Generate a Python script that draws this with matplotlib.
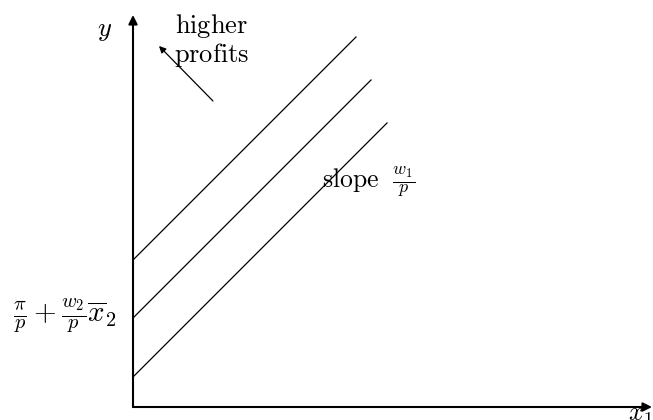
import numpy as np
import matplotlib
matplotlib.use("Agg")
import matplotlib.pyplot as plt

plt.rcParams['mathtext.fontset'] = 'cm'

# isoprofit lines: intercept on the y axis and how far right each one runs
intercepts = [147, 89, 30]
x_ends = [223, 238, 254]
slope = 1.0

fig = plt.figure(figsize=(6.53, 4.2), dpi=100)
ax = fig.add_axes([0, 0, 1, 1])
ax.set_xlim(-133, 520)
ax.set_ylim(-13, 407)
ax.axis('off')

# axes with arrow heads
ax.annotate('', xy=(0, 392), xytext=(0, 0),
            arrowprops=dict(arrowstyle='-|>', lw=1.5, color='black',
                            mutation_scale=13, shrinkA=0, shrinkB=0))
ax.annotate('', xy=(519, 0), xytext=(0, 0),
            arrowprops=dict(arrowstyle='-|>', lw=1.5, color='black',
                            mutation_scale=13, shrinkA=0, shrinkB=0))

for b, xe in zip(intercepts, x_ends):
    xs = np.array([0, xe])
    ax.plot(xs, b + slope * xs, color='black', lw=0.9)

ax.text(-28, 377, r'$y$', fontsize=19, ha='center', va='center')
ax.text(507, -7, r'$x_1$', fontsize=19, ha='center', va='center')
ax.text(-68, intercepts[1] + 2, r'$\frac{\pi}{p}+\frac{w_2}{p}\overline{x}_2$',
        fontsize=21, ha='center', va='center')
ax.text(79, 381, r'$\mathrm{higher}$', fontsize=19, ha='center', va='center')
ax.text(79, 352, r'$\mathrm{profits}$', fontsize=19, ha='center', va='center')
ax.text(189, 225, r'$\mathrm{slope}\ \ \frac{w_1}{p}$', fontsize=18.5,
        ha='left', va='center')

ax.annotate('', xy=(26, 361), xytext=(80, 306),
            arrowprops=dict(arrowstyle='-|>', lw=0.9, color='black',
                            mutation_scale=10, shrinkA=0, shrinkB=0))

fig.savefig('out.png', dpi=100)
